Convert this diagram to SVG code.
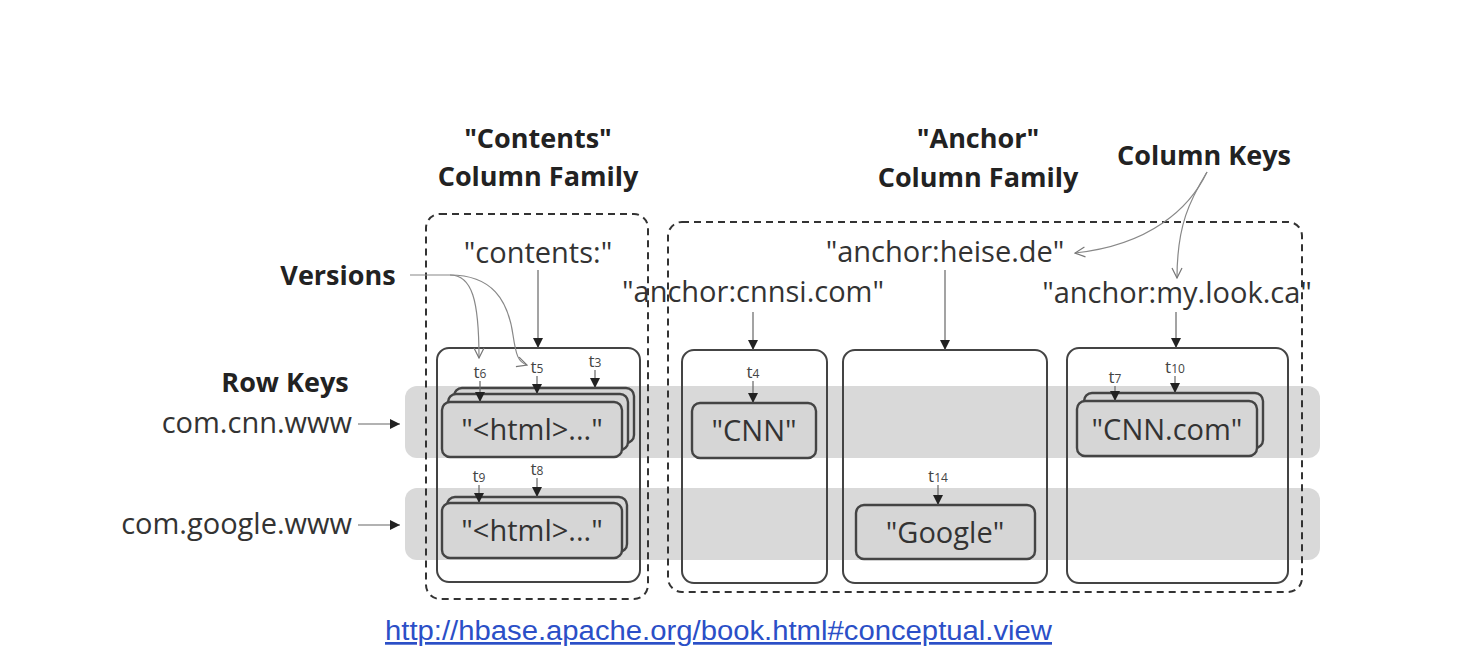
<svg xmlns="http://www.w3.org/2000/svg" width="1470" height="672" viewBox="0 0 1470 672">
<defs>
<marker id="tri" viewBox="0 0 10 10" refX="10" refY="5" markerWidth="10" markerHeight="10" markerUnits="userSpaceOnUse" orient="auto">
<path d="M0,0 L10,5 L0,10 z" fill="#222"/>
</marker>
<marker id="vee" viewBox="0 0 12 12" refX="11" refY="6" markerWidth="12" markerHeight="12" markerUnits="userSpaceOnUse" orient="auto">
<path d="M1,1 L11,6 L1,11" fill="none" stroke="#777" stroke-width="1.2"/>
</marker>
<style>
.lbl{font-family:"Open Sans","Liberation Sans",sans-serif;font-size:29px;fill:#333}
.ttl{font-family:"Open Sans","Liberation Sans",sans-serif;font-size:27px;font-weight:bold;fill:#222}
.tv{font-family:"Open Sans","Liberation Sans",sans-serif;font-size:17px;fill:#444;text-anchor:middle}
.sub{font-size:12px}
.band{fill:#d9d9d9}
.fam{fill:none;stroke:#333;stroke-width:2;stroke-dasharray:7 5}
.col{fill:none;stroke:#444;stroke-width:2}
.cell{fill:#d6d6d6;stroke:#444;stroke-width:2.4}
.ptr{fill:none;stroke:#666;stroke-width:1.2;marker-end:url(#tri)}
.ann{fill:none;stroke:#888;stroke-width:1.2;marker-end:url(#vee)}
.link{font-family:"Liberation Sans",Arial,sans-serif;font-size:27px;fill:#2b4fc7;text-decoration:underline}
</style>
</defs>
<rect width="1470" height="672" fill="#fff"/>

<g id="bands">
<rect class="band" x="405" y="386" width="915" height="72" rx="12"/>
<rect class="band" x="405" y="488" width="915" height="72" rx="12"/>
</g>

<g id="contents-family">
<rect class="fam" x="426" y="214" width="222" height="385" rx="14"/>
<text class="ttl" x="538" y="148" text-anchor="middle">"Contents"</text>
<text class="ttl" x="538" y="186" text-anchor="middle">Column Family</text>
</g>

<g id="anchor-family">
<rect class="fam" x="668" y="222" width="634" height="370" rx="14"/>
<text class="ttl" x="978" y="148" text-anchor="middle">"Anchor"</text>
<text class="ttl" x="978" y="187" text-anchor="middle">Column Family</text>
</g>

<g id="col-contents">
<rect class="col" x="437" y="348" width="203" height="234" rx="12"/>
<text class="lbl" x="538" y="263" text-anchor="middle">"contents:"</text>
</g>
<g id="col-cnnsi">
<rect class="col" x="682" y="350" width="145" height="233" rx="12"/>
<text class="lbl" x="753" y="302" text-anchor="middle">"anchor:cnnsi.com"</text>
</g>
<g id="col-heise">
<rect class="col" x="843" y="350" width="204" height="233" rx="12"/>
<text class="lbl" x="945" y="262" text-anchor="middle">"anchor:heise.de"</text>
</g>
<g id="col-mylook">
<rect class="col" x="1067" y="348" width="221" height="235" rx="12"/>
<text class="lbl" x="1177" y="303" text-anchor="middle">"anchor:my.look.ca"</text>
</g>

<g id="cell-cnn-contents">
<rect class="cell" x="454" y="388" width="180" height="55" rx="8"/>
<rect class="cell" x="448" y="394" width="180" height="56" rx="8"/>
<rect class="cell" x="442" y="402" width="180" height="55" rx="8"/>
<text class="lbl" x="532" y="440" text-anchor="middle">"&lt;html&gt;..."</text>
</g>
<g id="cell-google-contents">
<rect class="cell" x="447" y="497" width="180" height="55" rx="8"/>
<rect class="cell" x="442" y="503" width="180" height="55" rx="8"/>
<text class="lbl" x="532" y="541" text-anchor="middle">"&lt;html&gt;..."</text>
</g>
<g id="cell-cnn-cnnsi">
<rect class="cell" x="692" y="403" width="124" height="55" rx="8"/>
<text class="lbl" x="754" y="441" text-anchor="middle">"CNN"</text>
</g>
<g id="cell-google-heise">
<rect class="cell" x="856" y="505" width="179" height="54" rx="8"/>
<text class="lbl" x="945" y="543" text-anchor="middle">"Google"</text>
</g>
<g id="cell-cnn-mylook">
<rect class="cell" x="1084" y="393" width="179" height="55" rx="8"/>
<rect class="cell" x="1077" y="401" width="180" height="55" rx="8"/>
<text class="lbl" x="1167" y="440" text-anchor="middle">"CNN.com"</text>
</g>

<g id="row-keys">
<text class="ttl" x="285" y="392" text-anchor="middle">Row Keys</text>
<text class="lbl" x="352" y="433" text-anchor="end">com.cnn.www</text>
<text class="lbl" x="352" y="534" text-anchor="end">com.google.www</text>
</g>
<g id="versions-label">
<text class="ttl" x="338" y="285" text-anchor="middle">Versions</text>
</g>
<g id="column-keys-label">
<text class="ttl" x="1204" y="165" text-anchor="middle">Column Keys</text>
</g>

<g id="timestamps">
<text class="tv" x="480" y="378">t<tspan class="sub">6</tspan></text>
<text class="tv" x="537" y="373">t<tspan class="sub">5</tspan></text>
<text class="tv" x="595" y="367">t<tspan class="sub">3</tspan></text>
<text class="tv" x="479" y="482">t<tspan class="sub">9</tspan></text>
<text class="tv" x="537" y="475">t<tspan class="sub">8</tspan></text>
<text class="tv" x="753" y="378">t<tspan class="sub">4</tspan></text>
<text class="tv" x="938" y="482">t<tspan class="sub">14</tspan></text>
<text class="tv" x="1115" y="383">t<tspan class="sub">7</tspan></text>
<text class="tv" x="1175" y="373">t<tspan class="sub">10</tspan></text>
</g>

<g id="connectors">
<line class="ptr" x1="538" y1="270" x2="538" y2="348"/>
<line class="ptr" x1="753" y1="312" x2="753" y2="350"/>
<line class="ptr" x1="945" y1="270" x2="945" y2="350"/>
<line class="ptr" x1="1176" y1="312" x2="1176" y2="348"/>
<line class="ptr" x1="358" y1="424" x2="400" y2="424"/>
<line class="ptr" x1="358" y1="525" x2="400" y2="525"/>
<line class="ptr" x1="480" y1="381" x2="480" y2="402"/>
<line class="ptr" x1="537" y1="376" x2="537" y2="394"/>
<line class="ptr" x1="595" y1="370" x2="595" y2="388"/>
<line class="ptr" x1="479" y1="485" x2="479" y2="503"/>
<line class="ptr" x1="537" y1="478" x2="537" y2="497"/>
<line class="ptr" x1="753" y1="381" x2="753" y2="403"/>
<line class="ptr" x1="938" y1="485" x2="938" y2="505"/>
<line class="ptr" x1="1115" y1="386" x2="1115" y2="401"/>
<line class="ptr" x1="1175" y1="376" x2="1175" y2="393"/>
<path class="ann" d="M410,275 L450,275 C472,275 479,300 479,358"/>
<path class="ann" d="M450,275 C492,275 508,300 513,335 C516,355 518,362 527,365"/>
<path class="ann" d="M1207,172 C1190,208 1150,245 1075,253"/>
<path class="ann" d="M1207,172 C1190,200 1177,225 1177,278"/>
</g>

<g id="source-link">
<text class="link" x="385" y="640" textLength="667" lengthAdjust="spacingAndGlyphs">http://hbase.apache.org/book.html#conceptual.view</text>
</g>
</svg>
